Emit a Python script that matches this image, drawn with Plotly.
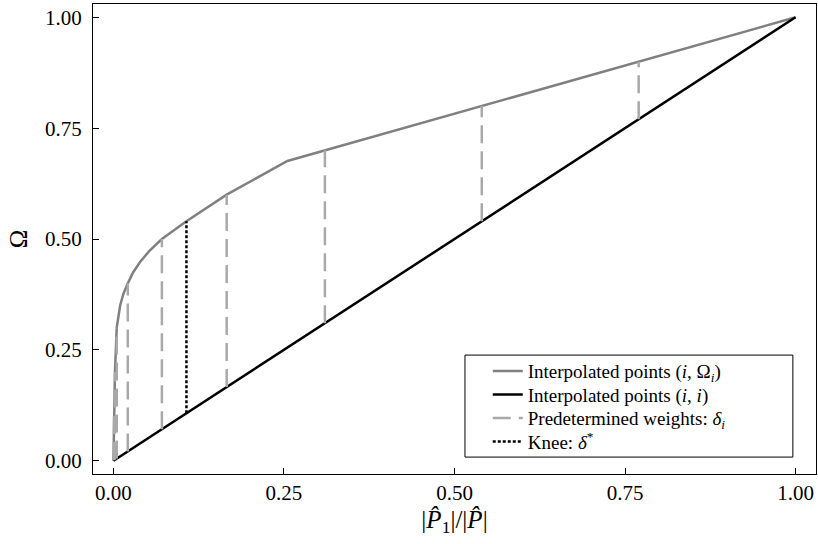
import plotly.graph_objects as go

# Interpolated points (i, Omega_i)
omega_x = [0.0, 0.0008, 0.0022, 0.0048, 0.0098, 0.0145, 0.021, 0.029, 0.039, 0.052, 0.071, 0.107, 0.166, 0.255, 0.31, 0.54, 0.77, 1.0]
omega_y = [0.0, 0.10, 0.20, 0.30, 0.35, 0.376, 0.40, 0.425, 0.448, 0.472, 0.50, 0.54, 0.60, 0.676, 0.70, 0.80, 0.90, 1.0]

# Interpolated points (i, i)
diag_x = [0.0, 1.0]
diag_y = [0.0, 1.0]

# Predetermined weights delta_i : x position and Omega value
delta_x = [0.0008, 0.0022, 0.0048, 0.021, 0.071, 0.166, 0.31, 0.54, 0.77]
delta_omega = [0.1, 0.2, 0.3, 0.4, 0.5, 0.6, 0.7, 0.8, 0.9]

# Knee delta*
knee_x = 0.107
knee_omega = 0.54

tick_vals = [0.0, 0.25, 0.5, 0.75, 1.0]
tick_text = ["0.00", "0.25", "0.50", "0.75", "1.00"]

legend_names = [
    "Interpolated points (<i>i</i>, Ω<sub><i>i</i></sub>)",
    "Interpolated points (<i>i</i>, <i>i</i>)",
    "Predetermined weights: <i>δ</i><sub><i>i</i></sub>",
    "Knee: <i>δ</i><sup>*</sup>",
]

FONT = "Liberation Serif, DejaVu Serif, Noto Serif, Times New Roman, serif"

dx, dy = [], []
for xv, om in zip(delta_x, delta_omega):
    dx += [xv, xv, None]
    dy += [xv, om, None]

fig = go.Figure()
fig.add_trace(go.Scatter(x=omega_x, y=omega_y, mode="lines",
                         line=dict(color="#808080", width=2.5),
                         name=legend_names[0], legend="legend"))
fig.add_trace(go.Scatter(x=diag_x, y=diag_y, mode="lines",
                         line=dict(color="black", width=2.5),
                         name=legend_names[1], legend="legend2"))
fig.add_trace(go.Scatter(x=dx, y=dy, mode="lines",
                         line=dict(color="#a9a9a9", width=2.5, dash="18px,8px"),
                         name=legend_names[2], legend="legend3"))
fig.add_trace(go.Scatter(x=[knee_x, knee_x], y=[knee_x, knee_omega], mode="lines",
                         line=dict(color="black", width=2.5, dash="3px,2px"),
                         name=legend_names[3], legend="legend4"))

axis_common = dict(
    range=[-0.03, 1.03], tickvals=tick_vals, ticktext=tick_text,
    ticks="inside", ticklen=6, tickcolor="black", tickwidth=1,
    showline=True, mirror=True, linecolor="black", linewidth=1,
    showgrid=False, zeroline=False,
    tickfont=dict(family=FONT, size=21, color="black"),
)

# row centres of the legend entries (paper fraction)
row_y = [0.219, 0.169, 0.119, 0.069]
leg_common = dict(x=0.546, xanchor="left", yanchor="middle",
                  bgcolor="rgba(0,0,0,0)", borderwidth=0,
                  font=dict(family=FONT, size=19, color="black"),
                  itemwidth=30)

fig.update_layout(
    width=818, height=544,
    margin=dict(l=93, r=2, t=4, b=70),
    plot_bgcolor="white", paper_bgcolor="white",
    font=dict(family=FONT, color="black"),
    xaxis=dict(**axis_common,
               title=dict(text="|<i>P̂</i><sub>1</sub>|/|<i>P̂</i>|",
                          font=dict(family=FONT, size=25, color="black"), standoff=6)),
    yaxis=dict(**axis_common, ticklabelstandoff=6,
               title=dict(text="Ω", font=dict(family=FONT, size=25, color="black"), standoff=10)),
    legend=dict(y=row_y[0], **leg_common),
    legend2=dict(y=row_y[1], **leg_common),
    legend3=dict(y=row_y[2], **leg_common),
    legend4=dict(y=row_y[3], **leg_common),
    showlegend=True,
    shapes=[dict(type="rect", xref="paper", yref="paper",
                 x0=0.5145, x1=0.968, y0=0.036, y1=0.253,
                 line=dict(color="black", width=1), layer="above")],
)

fig.write_html("out.html")
